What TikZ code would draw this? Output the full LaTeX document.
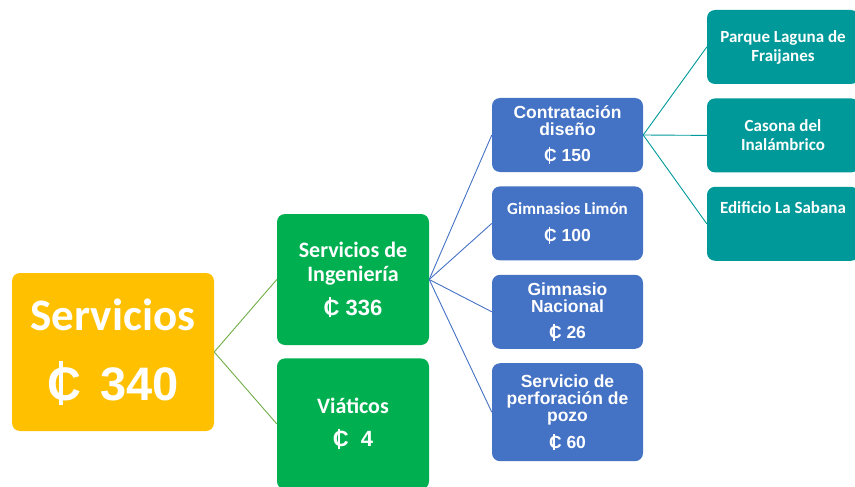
\documentclass[tikz,border=0pt]{standalone}
\usepackage{fontspec}
\setmainfont{Carlito}
\newfontfamily\arialfont{Liberation Sans}
\usepackage{xcolor}
\usepackage{tikz}
\usetikzlibrary{positioning}

\definecolor{rootorange}{HTML}{FFC000}
\definecolor{levelgreen}{HTML}{00B050}
\definecolor{levelblue}{HTML}{4472C4}
\definecolor{levelteal}{HTML}{009999}
\definecolor{linegreen}{HTML}{70AD47}

% colon sign: C with a vertical stroke
\newcommand{\colonsign}{\leavevmode\rlap{\hspace{0.25em}\rule[-0.11em]{0.085em}{0.94em}}C}
\newcommand{\amount}[1]{{\arialfont\bfseries\colonsign~#1}}

\begin{document}
\begin{tikzpicture}[x=1pt,y=-1pt,node distance=14pt,
                    box/.style={rounded corners=8pt,text=white,align=center,inner sep=0pt},
                    root node/.style={box,fill=rootorange,minimum width=202pt,minimum height=158pt,font=\bfseries\fontsize{45}{50}\selectfont},
                    green node/.style={box,fill=levelgreen,minimum width=152pt,minimum height=131pt,font=\bfseries\fontsize{22}{24}\selectfont},
                    blue node/.style={box,fill=levelblue,minimum width=151pt,minimum height=74pt,font=\arialfont\bfseries\fontsize{17.5}{17}\selectfont},
                    teal node/.style={box,fill=levelteal,minimum width=152pt,minimum height=74pt,font=\bfseries\fontsize{17}{19}\selectfont},
                    link/.style={line width=0.9pt}]
\useasboundingbox (0,0) rectangle (855,487);

\node[root node] (Root) at (113,352) {Servicios\\[20pt]{\arialfont\fontsize{47}{50}\selectfont\colonsign\hspace{0.4em}340}};

\node[green node] (Ingenieria) at (353,279.5) {Servicios de\\Ingeniería\\[10pt]\amount{336}};
\node[green node] (Viaticos) [below=13pt of Ingenieria] {Viáticos\\[9pt]\amount{~4}};

\node[blue node] (Contratacion) at (567.5,135) {Contratación\\diseño\\[9pt]\amount{150}};
\node[blue node] (Limon) [below=of Contratacion] {{\normalfont\bfseries\fontsize{17}{17}\selectfont Gimnasios Limón}\\[10pt]\amount{100}};
\node[blue node] (Nacional) [below=of Limon] {Gimnasio\\Nacional\\[9pt]\amount{26}};
\node[blue node,minimum height=98pt] (Pozo) [below=of Nacional] {Servicio de\\perforación de\\pozo\\[8pt]\amount{60}};

\node[teal node] (Fraijanes) at (783,47) {Parque Laguna de\\Fraijanes};
\node[teal node] (Casona) [below=of Fraijanes] {Casona del\\Inalámbrico};
\node[teal node] (Sabana) [below=of Casona] {Edificio La Sabana\\\mbox{}\\[-6pt]\mbox{}};

\foreach \n in {Ingenieria,Viaticos}
   \draw[link,linegreen] (Root.east) -- (\n.west);
\foreach \n in {Contratacion,Limon,Nacional,Pozo}
   \draw[link,levelblue] (Ingenieria.east) -- (\n.west);
\foreach \n in {Fraijanes,Casona,Sabana}
   \draw[link,levelteal] (Contratacion.east) -- (\n.west);
\end{tikzpicture}
\end{document}
